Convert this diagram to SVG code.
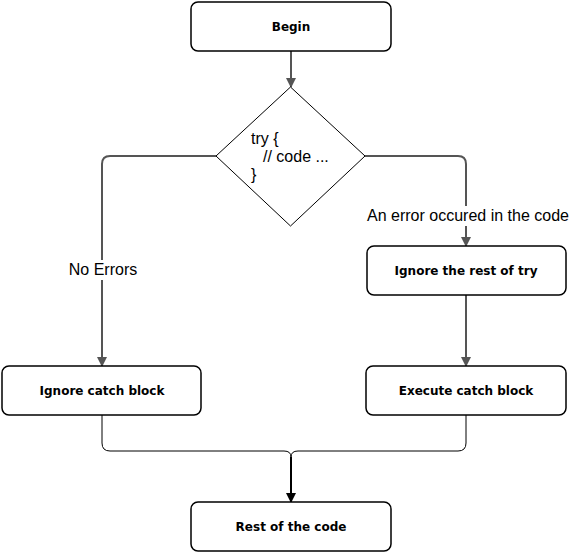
<svg xmlns="http://www.w3.org/2000/svg" width="569" height="552" viewBox="0 0 569 552">
<style>
.box{fill:#fff;stroke:#000;stroke-width:1.5}
.bt{font-family:"DejaVu Sans",Verdana,sans-serif;font-weight:bold;font-size:12px;fill:#000;text-anchor:middle}
.lt{font-family:"Liberation Sans",Arial,sans-serif;font-size:16px;fill:#000}
.gc{fill:none;stroke:#555;stroke-width:2}
.bc{fill:none;stroke:#000;stroke-width:1}
</style>
<defs>
<marker id="ag" markerWidth="10" markerHeight="10" refX="9" refY="5" orient="auto" markerUnits="userSpaceOnUse"><path d="M0,0 L10,5 L0,10 Z" fill="#555"/></marker>
<marker id="ab" markerWidth="10" markerHeight="10" refX="9" refY="5" orient="auto" markerUnits="userSpaceOnUse"><path d="M0,0 L10,5 L0,10 Z" fill="#000"/></marker>
</defs>
<rect width="569" height="552" fill="#fff"/>
<g id="connectors">
<path class="gc" d="M291,51 V87" marker-end="url(#ag)"/>
<path class="gc" d="M216,156 H110 Q102,156 102,164 V366" marker-end="url(#ag)"/>
<path class="gc" d="M365,156 H458 Q466,156 466,164 V246" marker-end="url(#ag)"/>
<path class="gc" d="M466,295 V366" marker-end="url(#ag)"/>
<path class="bc" d="M102,415 V443 Q102,451 110,451 H284 Q291,451 291,457"/>
<path class="bc" d="M466,415 V443 Q466,451 458,451 H298 Q291,451 291,457"/>
<path d="M291,457 V502" fill="none" stroke="#000" stroke-width="2" marker-end="url(#ab)"/>
<rect x="67" y="260" width="72" height="20" fill="#fff"/>
<text class="lt" x="103" y="275" text-anchor="middle">No Errors</text>
<rect x="366" y="206" width="203" height="20" fill="#fff"/>
<text class="lt" x="468" y="221" text-anchor="middle">An error occured in the code</text>
</g>
<g id="begin">
<rect class="box" x="191" y="2" width="200" height="49" rx="7"/>
<text class="bt" x="291" y="31">Begin</text>
</g>
<g id="try">
<path d="M290.5,87 L365,156 L290.5,226 L216,156 Z" fill="#fff" stroke="#000" stroke-width="1"/>
<text class="lt" x="251" y="144">try {</text>
<text class="lt" x="263" y="162">// code ...</text>
<text class="lt" x="251" y="180">}</text>
</g>
<g id="ignore-rest">
<rect class="box" x="367" y="246" width="199" height="49" rx="7"/>
<text class="bt" x="466" y="275">Ignore the rest of try</text>
</g>
<g id="ignore-catch">
<rect class="box" x="2" y="366" width="199" height="49" rx="7"/>
<text class="bt" x="102" y="395">Ignore catch block</text>
</g>
<g id="execute-catch">
<rect class="box" x="366" y="366" width="200" height="49" rx="7"/>
<text class="bt" x="466" y="395">Execute catch block</text>
</g>
<g id="rest">
<rect class="box" x="191" y="502" width="200" height="49" rx="7"/>
<text class="bt" x="291" y="531">Rest of the code</text>
</g>
</svg>
